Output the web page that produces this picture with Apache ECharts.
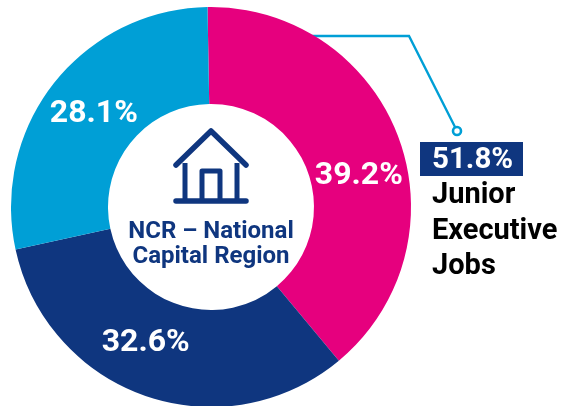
<!DOCTYPE html>
<html>
<head>
<meta charset="utf-8">
<style>
html,body{margin:0;padding:0;background:#fff;}
#main{width:562px;height:406px;}
</style>
<script src="https://cdn.jsdelivr.net/npm/echarts@6/dist/echarts.min.js"></script>
</head>
<body>
<div id="main"></div>
<script>
var categories=['Junior Executive','Middle','Senior'];
var shares=[39.2,32.6,28.1];
var colors=['#e6007e','#0f367f','#009fd6'];
var calloutValue='51.8%';
var calloutLines=['Junior','Executive','Jobs'];
var centerLines=['NCR – National','Capital Region'];

window.onload=function(){
	var myChart=echarts.init(document.getElementById('main'),null,{renderer:'canvas'});
	var navy='#0f367f';
	var font='Roboto';
	var labelOffsets=[[3,23],[-15,-10],[4,3]];
	var pieData=categories.map(function(name,i){
		return {
			name:name,
			value:shares[i],
			itemStyle:{color:colors[i]},
			label:{offset:labelOffsets[i]}
		};
	});
	var graphics=[
		// callout line
		{type:'polyline',silent:true,shape:{points:[[312,36],[409,36],[455,127]]},style:{fill:null,stroke:'#009fd6',lineWidth:2.4}},
		{type:'circle',silent:true,shape:{cx:457,cy:131,r:4},style:{fill:'#fff',stroke:'#009fd6',lineWidth:2.6}},
		{type:'rect',silent:true,shape:{x:420,y:142,width:103,height:34},style:{fill:navy}},
		{type:'text',silent:true,style:{x:432,y:161,text:calloutValue,fill:'#fff',font:'bold 29.5px '+font,textVerticalAlign:'middle'}},
		// house icon
		{type:'polyline',silent:true,shape:{points:[[176,165],[211,131],[246,165]]},style:{fill:null,stroke:navy,lineWidth:5.5,lineCap:'round',lineJoin:'round'}},
		{type:'polyline',silent:true,shape:{points:[[185,163],[185,201]]},style:{fill:null,stroke:navy,lineWidth:5}},
		{type:'polyline',silent:true,shape:{points:[[237,163],[237,201]]},style:{fill:null,stroke:navy,lineWidth:5}},
		{type:'polyline',silent:true,shape:{points:[[176,201],[246,201]]},style:{fill:null,stroke:navy,lineWidth:5.5,lineCap:'round'}},
		{type:'polyline',silent:true,shape:{points:[[202,201],[202,171],[220,171],[220,201]]},style:{fill:null,stroke:navy,lineWidth:5,lineJoin:'round'}}
	];
	centerLines.forEach(function(t,i){
		graphics.push({type:'text',silent:true,style:{x:211,y:232+i*25,text:t,fill:navy,font:'bold 24px '+font,textAlign:'center',textVerticalAlign:'middle'}});
	});
	calloutLines.forEach(function(t,i){
		graphics.push({type:'text',silent:true,style:{x:432,y:196+i*35.5,text:t,fill:'#000',font:'bold 29px '+font,textVerticalAlign:'middle'}});
	});
	var option={
		animation:false,
		graphic:graphics,
		series:[{
			type:'pie',
			center:[211,207],
			radius:[103,200],
			startAngle:91,
			clockwise:true,
			silent:true,
			label:{
				show:true,
				position:'inside',
				formatter:'{c}%',
				color:'#fff',
				fontFamily:font,
				fontWeight:'bold',
				fontSize:32
			},
			labelLine:{show:false},
			data:pieData
		}]
	};
	myChart.setOption(option);
};
</script>
</body>
</html>
